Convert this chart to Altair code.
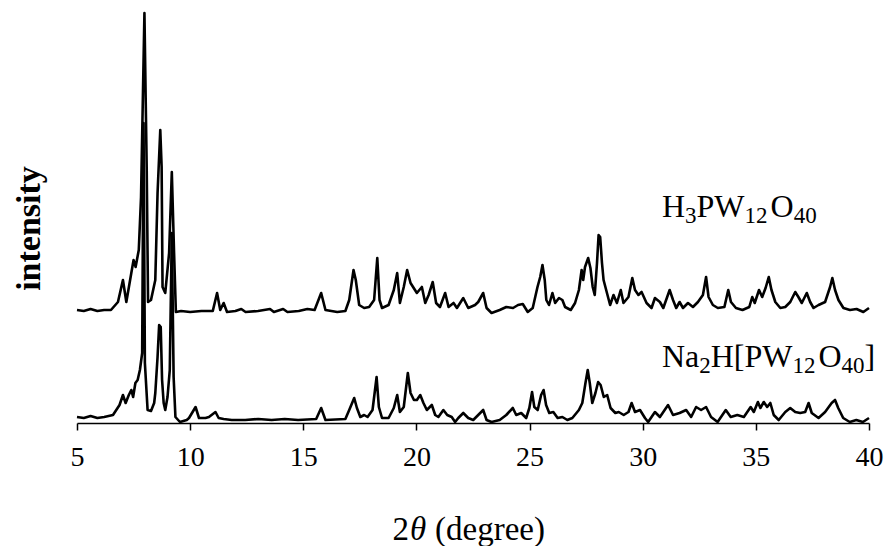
import altair as alt
import pandas as pd

# ---- data (2-theta in degrees, intensity in arbitrary units) ----
top_2theta = [5.00, 5.30, 5.60, 5.90, 6.20, 6.50, 6.81, 7.03, 7.18, 7.40, 7.50, 7.59, 7.73, 7.83, 7.98,
              8.08, 8.14, 8.27, 8.46, 8.56, 8.68, 8.74, 8.78, 8.90, 9.07, 9.19, 9.29, 9.37, 9.60, 10.0,
              10.5, 11.0, 11.19, 11.33, 11.48, 11.63, 12.0, 12.26, 12.45, 13.0, 13.53, 13.7, 14.11, 14.3,
              14.8, 15.18, 15.5, 15.79, 15.98, 16.5, 16.86, 17.03, 17.22, 17.32, 17.47, 17.69, 17.91,
              18.13, 18.27, 18.37, 18.48, 18.77, 19.00, 19.15, 19.27, 19.44, 19.59, 19.74, 20.02, 20.24,
              20.39, 20.54, 20.72, 20.87, 21.04, 21.27, 21.42, 21.64, 21.79, 22.07, 22.29, 22.59, 22.73,
              22.95, 23.10, 23.32, 23.68, 23.97, 24.27, 24.49, 24.70, 24.92, 25.14, 25.35, 25.47, 25.57,
              25.67, 25.74, 25.86, 26.01, 26.13, 26.30, 26.45, 26.57, 26.82, 27.01, 27.18, 27.30, 27.37,
              27.45, 27.59, 27.69, 27.79, 27.88, 27.98, 28.05, 28.12, 28.20, 28.27, 28.42, 28.56, 28.71,
              28.86, 29.03, 29.15, 29.37, 29.54, 29.66, 29.81, 29.95, 30.17, 30.39, 30.54, 30.76, 30.91,
              31.19, 31.34, 31.48, 31.63, 31.78, 32.00, 32.22, 32.44, 32.66, 32.80, 32.91, 33.10, 33.32,
              33.61, 33.78, 33.90, 34.12, 34.41, 34.71, 34.84, 34.95, 35.14, 35.28, 35.43, 35.57, 35.69,
              35.86, 36.08, 36.30, 36.52, 36.74, 36.88, 37.03, 37.25, 37.40, 37.55, 37.77, 38.06, 38.28,
              38.38, 38.50, 38.65, 38.87, 39.16, 39.45, 39.75, 40.00]
top_int = [113, 112, 114, 112, 113, 113, 121, 143, 121, 150, 163, 156, 173, 226, 410,
           256, 121, 123, 143, 230, 293, 256, 136, 130, 170, 251, 170, 111, 112, 111,
           112, 112, 130, 113, 120, 111, 112, 114, 111, 112, 114, 111, 114, 111,
           112, 114, 113, 130, 113, 111, 112, 123, 153, 143, 118, 115, 116,
           123, 165, 123, 115, 118, 133, 150, 120, 136, 153, 140, 130, 136,
           120, 128, 141, 120, 116, 130, 116, 120, 115, 125, 115, 118, 121,
           130, 115, 110, 113, 116, 115, 118, 119, 111, 115, 136, 146, 158,
           143, 123, 118, 130, 120, 125, 123, 116, 113, 120, 133, 153, 143,
           156, 165, 155, 136, 128, 160, 188, 186, 160, 143, 130, 118, 128,
           120, 133, 120, 126, 145, 133, 128, 131, 120, 115, 125, 121, 115,
           133, 123, 115, 121, 115, 120, 116, 121, 128, 146, 126, 118, 115,
           116, 133, 121, 115, 113, 116, 126, 120, 133, 126, 135, 146, 133,
           121, 115, 116, 121, 131, 126, 120, 130, 121, 115, 118, 121, 136,
           145, 133, 123, 115, 113, 114, 111, 115]

bot_2theta = [5.00, 5.30, 5.60, 5.90, 6.20, 6.59, 6.88, 7.03, 7.15, 7.29, 7.40, 7.48, 7.58, 7.68, 7.78,
              7.88, 7.94, 8.00, 8.12, 8.27, 8.41, 8.46, 8.56, 8.63, 8.70, 8.76, 8.83, 8.90, 9.00, 9.10,
              9.19, 9.27, 9.35, 9.55, 9.85, 9.95, 10.24, 10.39, 10.68, 10.83, 11.12, 11.26, 11.48, 11.84,
              12.43, 13.01, 13.60, 14.18, 14.77, 15.57, 15.79, 15.98, 16.86, 17.03, 17.25, 17.37, 17.52,
              17.69, 17.84, 18.06, 18.24, 18.34, 18.48, 18.77, 19.00, 19.15, 19.27, 19.44, 19.62, 19.74,
              19.89, 20.02, 20.17, 20.31, 20.46, 20.68, 20.83, 20.97, 21.19, 21.36, 21.56, 21.71, 21.85,
              22.07, 22.29, 22.51, 22.73, 22.95, 23.10, 23.32, 23.68, 23.97, 24.26, 24.41, 24.63, 24.85,
              24.99, 25.11, 25.21, 25.36, 25.51, 25.62, 25.73, 25.87, 26.05, 26.24, 26.45, 26.67, 26.89,
              27.18, 27.33, 27.47, 27.57, 27.66, 27.77, 27.91, 28.03, 28.14, 28.28, 28.43, 28.58, 28.79,
              28.94, 29.16, 29.37, 29.51, 29.66, 29.88, 30.10, 30.24, 30.54, 30.76, 31.12, 31.34, 31.63,
              31.92, 32.14, 32.36, 32.58, 32.80, 33.02, 33.31, 33.67, 33.89, 34.18, 34.47, 34.77, 34.91,
              35.09, 35.20, 35.35, 35.50, 35.64, 35.79, 36.01, 36.30, 36.52, 36.74, 36.96, 37.18, 37.33,
              37.47, 37.77, 38.06, 38.35, 38.50, 38.64, 38.86, 39.15, 39.44, 39.73, 40.00]
bot_int = [6, 5, 7, 5, 6, 8, 18, 28, 20, 28, 33, 26, 40, 43, 53,
           70, 300, 60, 13, 12, 20, 30, 66, 98, 96, 43, 20, 13, 26, 53,
           190, 46, 6, 1, 3, 5, 16, 5, 5, 6, 11, 5, 4, 3,
           3, 4, 3, 4, 3, 4, 15, 3, 4, 13, 25, 15, 6,
           8, 6, 13, 46, 16, 5, 5, 15, 28, 11, 16, 50, 30,
           23, 23, 28, 20, 13, 18, 8, 6, 13, 8, 6, 1, 5,
           10, 5, 3, 8, 13, 3, 1, 3, 8, 15, 8, 10, 5,
           15, 31, 16, 13, 28, 33, 18, 10, 11, 5, 6, 3, 5,
           13, 20, 40, 53, 40, 20, 30, 41, 38, 26, 28, 15, 10,
           11, 8, 11, 20, 11, 13, 5, 1, 11, 6, 18, 8, 10,
           13, 6, 16, 13, 16, 6, 1, 13, 6, 8, 6, 16, 11,
           21, 15, 21, 16, 20, 8, 3, 11, 15, 11, 10, 11, 20,
           10, 5, 11, 20, 23, 15, 5, 1, 3, 1, 5]

series_names = ["H3PW12O40", "Na2H[PW12O40]"]
x_ticks = [5, 10, 15, 20, 25, 30, 35, 40]

df = pd.concat([
    pd.DataFrame({"two_theta": top_2theta, "intensity": top_int, "series": series_names[0]}),
    pd.DataFrame({"two_theta": bot_2theta, "intensity": bot_int, "series": series_names[1]}),
])
one_row = pd.DataFrame({"k": [0]})

FONT = "Liberation Serif"
W, H = 792, 413

x_enc = alt.X("two_theta:Q",
              scale=alt.Scale(domain=[5, 40], nice=False, zero=False),
              axis=alt.Axis(values=x_ticks, title=None, grid=False, tickSize=7, tickWidth=1.5,
                            tickColor="black", domainColor="black", domainWidth=1.5,
                            labelFont=FONT, labelFontSize=28, labelColor="black",
                            labelPadding=13, labelFlush=False))
y_enc = alt.Y("intensity:Q",
              scale=alt.Scale(domain=[0, 413], nice=False, zero=True),
              axis=alt.Axis(domain=False, ticks=False, labels=False, grid=False,
                            title="intensity", titleFont=FONT, titleFontSize=34,
                            titleFontWeight="bold", titleColor="black",
                            titleX=-31, titleY=218))

lines = alt.Chart(df).mark_line(color="black", strokeWidth=2.6, strokeJoin="round").encode(
    x=x_enc, y=y_enc, detail="series:N")

# ---- formula labels, built from pieces so that subscripts sit lower and smaller ----
adv = {"H": .722, "P": .556, "W": .944, "O": .722, "N": .722, "a": .444, "[": .333, "]": .333}
def piece_widths(pieces, big, small):
    out, x = [], 0.0
    for txt, sub in pieces:
        fs = small if sub else big
        out.append((txt, sub, x, fs))
        x += sum(adv.get(c, .5) for c in txt) * fs
        if sub == "gap":
            x += 3
    return out

def label_layers(pieces, x0, y0, big=32, small=23):
    layers = []
    for txt, sub, dx, fs in piece_widths(pieces, big, small):
        layers.append(alt.Chart(one_row).mark_text(
            text=txt, font=FONT, fontSize=fs, color="black", align="left", baseline="alphabetic",
            dx=dx, dy=6 if sub else 0).encode(x=alt.datum(x0), y=alt.datum(y0)))
    return layers

top_label = [("H", False), ("3", True), ("PW", False), ("12", "gap"), ("O", False), ("40", True)]
bot_label = [("Na", False), ("2", True), ("H[PW", False), ("12", "gap"), ("O", False), ("40", True), ("]", False)]

labels = label_layers(top_label, 30.85, 206) + label_layers(bot_label, 30.85, 56)

# x-axis title with italic theta
title_y = 530
title_parts = [
    alt.Chart(one_row).mark_text(text="2", font=FONT, fontSize=33, align="right", baseline="alphabetic",
                                 color="black").encode(x=alt.value(332), y=alt.value(title_y)),
    alt.Chart(one_row).mark_text(text="θ", font=FONT, fontSize=33, fontStyle="italic", align="left",
                                 baseline="alphabetic", color="black").encode(x=alt.value(333), y=alt.value(title_y)),
    alt.Chart(one_row).mark_text(text="(degree)", font=FONT, fontSize=33, align="left", baseline="alphabetic",
                                 color="black").encode(x=alt.value(358), y=alt.value(title_y)),
]

chart = alt.layer(lines, *labels, *title_parts).properties(
    width=W, height=H,
    autosize=alt.AutoSizeParams(type="none"),
    padding={"left": 69, "top": 2, "right": 15, "bottom": 123},
    background="white",
).configure_view(stroke=None)

chart.save("out.html", embed_options={"renderer": "svg", "actions": False})
